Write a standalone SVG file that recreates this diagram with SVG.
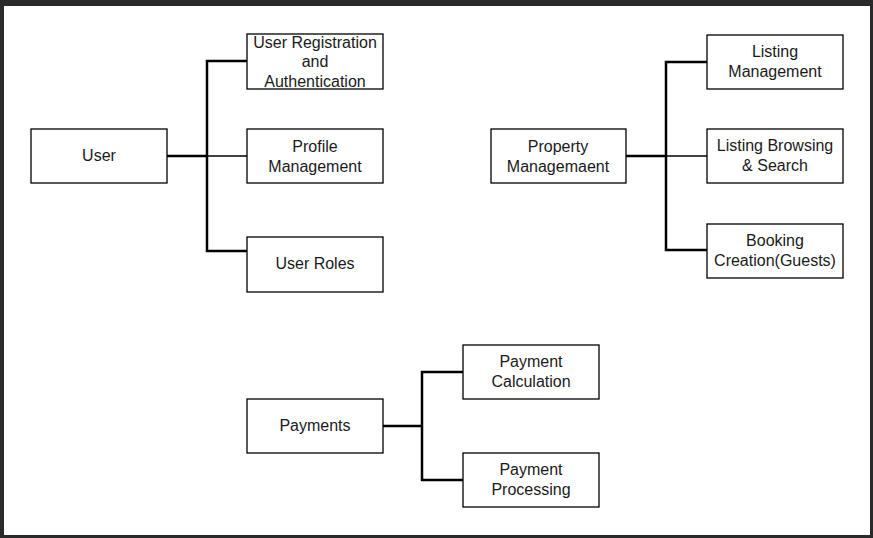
<svg xmlns="http://www.w3.org/2000/svg" width="873" height="538" viewBox="0 0 873 538">
<style>
.box{fill:#ffffff;stroke:#000000;stroke-width:1.3}
.t{font-family:"Liberation Sans",Arial,sans-serif;font-size:16px;fill:#1a1a1a;text-anchor:middle}
.c{fill:none;stroke:#000000;stroke-width:2.5}
.c2{fill:none;stroke:#000000;stroke-width:1.5}
</style>
<rect x="0" y="0" width="873" height="538" fill="#2a2a2a"/>
<rect x="4" y="6" width="866" height="529" fill="#ffffff"/>
<g id="connectors">
<path class="c" d="M167 156 H207 M247 61 H207 V251 H247"/>
<path class="c2" d="M207 156 H247"/>
<path class="c" d="M626 156 H666 M707 62 H666 V250 H707"/>
<path class="c2" d="M666 156 H707"/>
<path class="c" d="M383 426 H422 M463 372 H422 V480 H463"/>
</g>
<g id="user"><rect class="box" x="31" y="129" width="136" height="54"/><text class="t" x="99" y="161">User</text></g>
<g id="user-registration"><rect class="box" x="247" y="34" width="136" height="55"/><text class="t" x="315" y="48">User Registration</text><text class="t" x="315" y="67">and</text><text class="t" x="315" y="87">Authentication</text></g>
<g id="profile-management"><rect class="box" x="247" y="129" width="136" height="54"/><text class="t" x="315" y="152">Profile</text><text class="t" x="315" y="172">Management</text></g>
<g id="user-roles"><rect class="box" x="247" y="237" width="136" height="55"/><text class="t" x="315" y="269">User Roles</text></g>
<g id="property-management"><rect class="box" x="491" y="129" width="135" height="54"/><text class="t" x="558" y="152">Property</text><text class="t" x="558" y="172">Managemaent</text></g>
<g id="listing-management"><rect class="box" x="707" y="35" width="136" height="54"/><text class="t" x="775" y="57">Listing</text><text class="t" x="775" y="77">Management</text></g>
<g id="listing-browsing"><rect class="box" x="707" y="129" width="136" height="54"/><text class="t" x="775" y="151">Listing Browsing</text><text class="t" x="775" y="171">&amp; Search</text></g>
<g id="booking-creation"><rect class="box" x="707" y="224" width="136" height="54"/><text class="t" x="775" y="246">Booking</text><text class="t" x="775" y="266">Creation(Guests)</text></g>
<g id="payments"><rect class="box" x="247" y="399" width="136" height="54"/><text class="t" x="315" y="431">Payments</text></g>
<g id="payment-calculation"><rect class="box" x="463" y="345" width="136" height="54"/><text class="t" x="531" y="367">Payment</text><text class="t" x="531" y="387">Calculation</text></g>
<g id="payment-processing"><rect class="box" x="463" y="453" width="136" height="54"/><text class="t" x="531" y="475">Payment</text><text class="t" x="531" y="495">Processing</text></g>
</svg>
